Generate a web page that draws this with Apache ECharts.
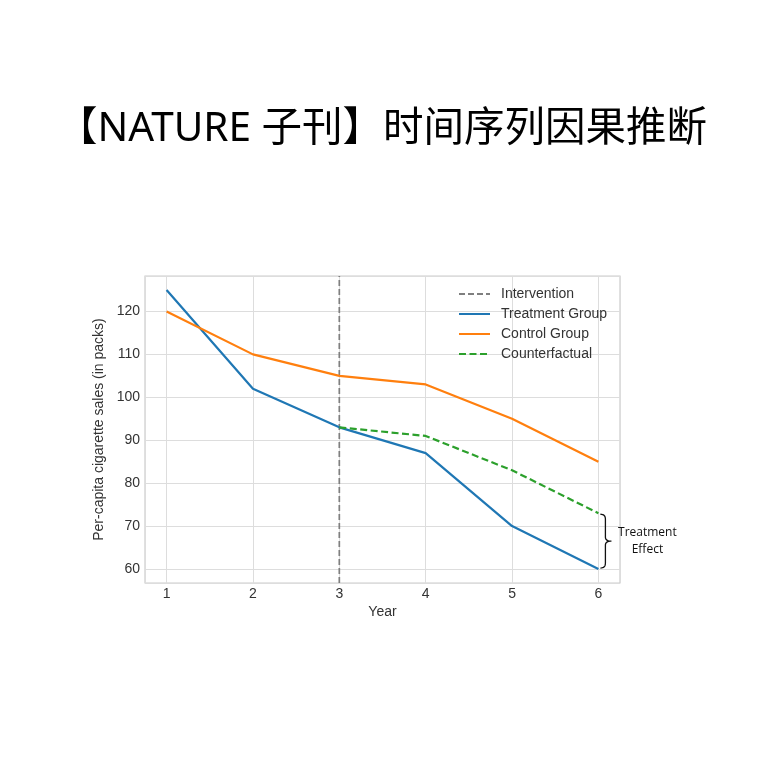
<!DOCTYPE html>
<html>
<head>
<meta charset="utf-8">
<script src="https://cdn.jsdelivr.net/npm/echarts@6/dist/echarts.min.js"></script>
<style>
  html, body { margin: 0; padding: 0; background: #fff; }
  #chart { width: 764px; height: 764px; }
</style>
</head>
<body>
<div id="chart"></div>
<script>
const years = [1, 2, 3, 4, 5, 6]
const treatment = [125, 102, 93, 87, 70, 60]
const control = [120, 110, 105, 103, 95, 85]
const counterfactualYears = [3, 4, 5, 6]
const counterfactual = [93, 91, 83, 73]
const interventionYear = 3

const X_MIN = 0.75
const X_MAX = 6.25
const Y_MIN = 56.75
const Y_MAX = 128.25

const AXIS_FONT = 'Liberation Sans, Arial, sans-serif'
const TEXT_COLOR = '#333333'

const pairs = (xs, ys) => xs.map((x, i) => [x, ys[i]])

const chart = echarts.init(document.getElementById('chart'), null, { renderer: 'canvas' })

const lineSeries = (name, data, color, lineType, width, z) => ({
  name,
  type: 'line',
  symbol: 'circle',
  symbolSize: 0,
  showSymbol: false,
  data,
  lineStyle: { color, width, type: lineType },
  itemStyle: { color },
  z
})

chart.setOption({
  backgroundColor: '#ffffff',
  animation: false,
  title: {
    text: '【NATURE 子刊】时间序列因果推断',
    left: 'center',
    top: 104,
    textStyle: {
      color: '#000000',
      fontSize: 40.5,
      fontWeight: 'normal',
      fontFamily: 'Noto Sans, Noto Sans CJK SC, sans-serif'
    }
  },
  legend: {
    orient: 'vertical',
    left: 453,
    top: 282,
    itemWidth: 31,
    itemHeight: 14,
    itemGap: 6,
    // hide the marker in the legend icon, keep the line
    itemStyle: { opacity: 0 },
    lineStyle: { width: 2 },
    textStyle: {
      color: TEXT_COLOR,
      fontSize: 14,
      fontFamily: AXIS_FONT,
      padding: [0, 0, 0, 6]
    },
    data: ['Intervention', 'Treatment Group', 'Control Group', 'Counterfactual']
  },
  grid: {
    left: 145,
    right: 144,
    top: 276,
    bottom: 181,
    show: true,
    borderColor: '#cccccc',
    borderWidth: 1.2
  },
  xAxis: {
    type: 'value',
    min: X_MIN,
    max: X_MAX,
    splitNumber: 5,
    name: 'Year',
    nameLocation: 'middle',
    nameGap: 22,
    nameTextStyle: { color: TEXT_COLOR, fontSize: 14, fontFamily: AXIS_FONT },
    axisLine: { show: false },
    axisTick: { show: false },
    axisLabel: {
      color: TEXT_COLOR,
      fontSize: 14,
      fontFamily: AXIS_FONT,
      margin: 4,
      showMinLabel: false,
      showMaxLabel: false
    },
    splitLine: { lineStyle: { color: '#dddddd', width: 1 } }
  },
  yAxis: {
    type: 'value',
    min: Y_MIN,
    max: Y_MAX,
    splitNumber: 7,
    name: 'Per-capita cigarette sales (in packs)',
    nameLocation: 'middle',
    nameRotate: 90,
    nameGap: 34,
    nameTextStyle: { color: TEXT_COLOR, fontSize: 14, fontFamily: AXIS_FONT },
    axisLine: { show: false },
    axisTick: { show: false },
    axisLabel: {
      color: TEXT_COLOR,
      fontSize: 14,
      fontFamily: AXIS_FONT,
      margin: 5,
      showMinLabel: false,
      showMaxLabel: false
    },
    splitLine: { lineStyle: { color: '#dddddd', width: 1 } }
  },
  series: [
    lineSeries('Intervention', [[interventionYear, Y_MIN], [interventionYear, Y_MAX]], '#7f7f7f', [6, 3], 1.7, 2),
    lineSeries('Treatment Group', pairs(years, treatment), '#1f77b4', 'solid', 2.2, 3),
    lineSeries('Control Group', pairs(years, control), '#ff7f0e', 'solid', 2.2, 3),
    lineSeries('Counterfactual', pairs(counterfactualYears, counterfactual), '#2ca02c', [7, 3.5], 2.2, 3)
  ]
})

// "Treatment Effect" brace between counterfactual and treatment at the last year
const lastYear = years[years.length - 1]
const braceTop = chart.convertToPixel({ gridIndex: 0 }, [lastYear, counterfactual[counterfactual.length - 1]])
const braceBottom = chart.convertToPixel({ gridIndex: 0 }, [lastYear, treatment[treatment.length - 1]])
const sx = braceTop[0] + 7
const y0 = braceTop[1] + 1
const y1 = braceBottom[1] - 1
const ym = (y0 + y1) / 2

const quad = (p0, p1, p2, n = 8) => {
  const pts = []
  for (let i = 0; i <= n; i++) {
    const t = i / n
    const a = (1 - t) * (1 - t)
    const b = 2 * (1 - t) * t
    const c = t * t
    pts.push([a * p0[0] + b * p1[0] + c * p2[0], a * p0[1] + b * p1[1] + c * p2[1]])
  }
  return pts
}

const bracePoints = [
  ...quad([sx - 5, y0], [sx, y0], [sx, y0 + 5]),
  ...quad([sx, ym - 4], [sx, ym], [sx + 6, ym]),
  ...quad([sx + 6, ym], [sx, ym], [sx, ym + 4]).slice(1),
  ...quad([sx, y1 - 5], [sx, y1], [sx - 5, y1])
]

chart.setOption({
  graphic: [
    {
      type: 'polyline',
      shape: { points: bracePoints },
      style: { fill: null, stroke: '#111111', lineWidth: 1.3 },
      z: 10
    },
    {
      type: 'text',
      x: sx + 42,
      y: ym - 9,
      style: {
        text: 'Treatment',
        fill: '#111111',
        fontSize: 12,
        fontFamily: 'Open Sans, sans-serif',
        align: 'center',
        verticalAlign: 'middle'
      },
      z: 10
    },
    {
      type: 'text',
      x: sx + 42,
      y: ym + 8,
      style: {
        text: 'Effect',
        fill: '#111111',
        fontSize: 12,
        fontFamily: 'Open Sans, sans-serif',
        align: 'center',
        verticalAlign: 'middle'
      },
      z: 10
    }
  ]
})
</script>
</body>
</html>
